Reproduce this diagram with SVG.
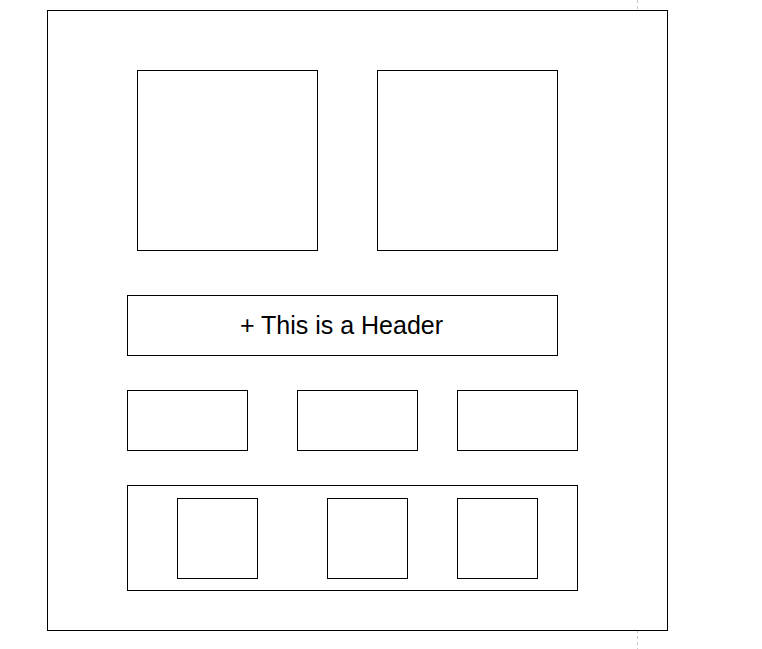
<svg xmlns="http://www.w3.org/2000/svg" width="762" height="649" viewBox="0 0 762 649">
<style>
.b{fill:#fff;stroke:#000;stroke-width:1}
.t{font-family:"Liberation Sans",Arial,sans-serif;font-size:25px;fill:#000}
</style>
<rect x="0" y="0" width="762" height="649" fill="#fff"/>
<line x1="637.5" y1="0" x2="637.5" y2="649" stroke="#c8c8c8" stroke-width="1" stroke-dasharray="3,3"/>
<g id="page"><rect class="b" x="47.5" y="10.5" width="620" height="620"/></g>
<g id="img1"><rect class="b" x="137.5" y="70.5" width="180" height="180"/></g>
<g id="img2"><rect class="b" x="377.5" y="70.5" width="180" height="180"/></g>
<g id="header"><rect class="b" x="127.5" y="295.5" width="430" height="60"/>
<text class="t" x="341.5" y="334" text-anchor="middle">+ This is a Header</text></g>
<g id="box1"><rect class="b" x="127.5" y="390.5" width="120" height="60"/></g>
<g id="box2"><rect class="b" x="297.5" y="390.5" width="120" height="60"/></g>
<g id="box3"><rect class="b" x="457.5" y="390.5" width="120" height="60"/></g>
<g id="container"><rect class="b" x="127.5" y="485.5" width="450" height="105"/></g>
<g id="sq1"><rect class="b" x="177.5" y="498.5" width="80" height="80"/></g>
<g id="sq2"><rect class="b" x="327.5" y="498.5" width="80" height="80"/></g>
<g id="sq3"><rect class="b" x="457.5" y="498.5" width="80" height="80"/></g>
<g id="connectors"/>
</svg>
